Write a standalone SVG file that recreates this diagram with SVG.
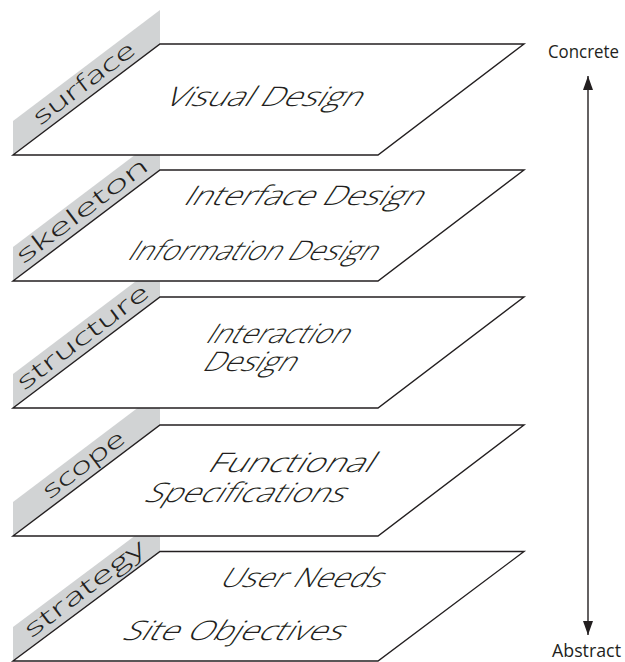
<svg xmlns="http://www.w3.org/2000/svg" width="625" height="662" viewBox="0 0 625 662">
  <style>
    .plane { fill: #ffffff; stroke: #231f20; stroke-width: 1.4; stroke-linejoin: miter; }
    .strip { fill: #d1d3d4; }
    .layer { font-family: "Open Sans", "Liberation Sans", sans-serif; font-size: 23px; font-weight: 350; fill: #231f20; }
    .item { font-family: "Open Sans", "Liberation Sans", sans-serif; font-size: 27px; font-weight: 350; fill: #231f20; }
    .end { font-family: "Open Sans", "Liberation Sans", sans-serif; font-size: 17.5px; fill: #231f20; }
    .axis { stroke: #231f20; stroke-width: 1.4; fill: none; }
  </style>
  <defs>
    <marker id="head" viewBox="0 0 14 10" refX="14" refY="5" markerWidth="14" markerHeight="10" markerUnits="userSpaceOnUse" orient="auto-start-reverse">
      <path d="M0,0 L14,5 L0,10 Z" fill="#231f20"/>
    </marker>
  </defs>

  <!-- layers are painted bottom-up so each plane hides the strip of the one below -->
  <g id="strategy">
    <path class="strip" d="M13,627 L160,517 V551.5 L13,661 Z"/>
    <path class="plane" d="M160,551.5 H524 L378,661 H13 Z"/>
    <g transform="translate(13,661) rotate(-37.06)">
      <text class="layer" x="28" y="-7" textLength="145" lengthAdjust="spacingAndGlyphs">strategy</text>
    </g>
    <text class="item" transform="translate(218,587) skewX(-33)" textLength="161" lengthAdjust="spacingAndGlyphs">User Needs</text>
    <text class="item" transform="translate(121,640) skewX(-33)" textLength="219" lengthAdjust="spacingAndGlyphs">Site Objectives</text>
  </g>

  <g id="scope">
    <path class="strip" d="M13,502 L160,391 V425 L13,536 Z"/>
    <path class="plane" d="M160,425 H524 L378,536 H13 Z"/>
    <g transform="translate(13,536) rotate(-37.06)">
      <text class="layer" x="51" y="-7" textLength="97" lengthAdjust="spacingAndGlyphs">scope</text>
    </g>
    <text class="item" transform="translate(206,472) skewX(-33)" textLength="164" lengthAdjust="spacingAndGlyphs">Functional</text>
    <text class="item" transform="translate(143,502) skewX(-33)" textLength="199" lengthAdjust="spacingAndGlyphs">Specifications</text>
  </g>

  <g id="structure">
    <path class="strip" d="M13,374 L160,263 V297 L13,408 Z"/>
    <path class="plane" d="M160,297 H524 L378,408 H13 Z"/>
    <g transform="translate(13,408) rotate(-37.06)">
      <text class="layer" x="19" y="-7" textLength="159" lengthAdjust="spacingAndGlyphs">structure</text>
    </g>
    <text class="item" transform="translate(204,343) skewX(-33)" textLength="142" lengthAdjust="spacingAndGlyphs">Interaction</text>
    <text class="item" transform="translate(201,371) skewX(-33)" textLength="92" lengthAdjust="spacingAndGlyphs">Design</text>
  </g>

  <g id="skeleton">
    <path class="strip" d="M13,247 L160,136 V170 L13,281 Z"/>
    <path class="plane" d="M160,170 H524 L378,281 H13 Z"/>
    <g transform="translate(13,281) rotate(-37.06)">
      <text class="layer" x="18" y="-7" textLength="159" lengthAdjust="spacingAndGlyphs">skeleton</text>
    </g>
    <text class="item" transform="translate(182,205) skewX(-33)" textLength="238" lengthAdjust="spacingAndGlyphs">Interface Design</text>
    <text class="item" transform="translate(126,260) skewX(-33)" textLength="248" lengthAdjust="spacingAndGlyphs">Information Design</text>
  </g>

  <g id="surface">
    <path class="strip" d="M13,121 L160,10 V44 L13,155 Z"/>
    <path class="plane" d="M160,44 H524 L378,155 H13 Z"/>
    <g transform="translate(13,155) rotate(-37.06)">
      <text class="layer" x="39" y="-7" textLength="122" lengthAdjust="spacingAndGlyphs">surface</text>
    </g>
    <text class="item" transform="translate(163,106) skewX(-33)" textLength="196" lengthAdjust="spacingAndGlyphs">Visual Design</text>
  </g>

  <g id="concrete">
    <text class="end" x="548" y="58" textLength="71" lengthAdjust="spacingAndGlyphs">Concrete</text>
  </g>
  <g id="abstract">
    <text class="end" x="552" y="657" textLength="69" lengthAdjust="spacingAndGlyphs">Abstract</text>
  </g>

  <g id="connectors">
    <line class="axis" x1="588" y1="635" x2="588" y2="76" marker-start="url(#head)" marker-end="url(#head)"/>
  </g>
</svg>
